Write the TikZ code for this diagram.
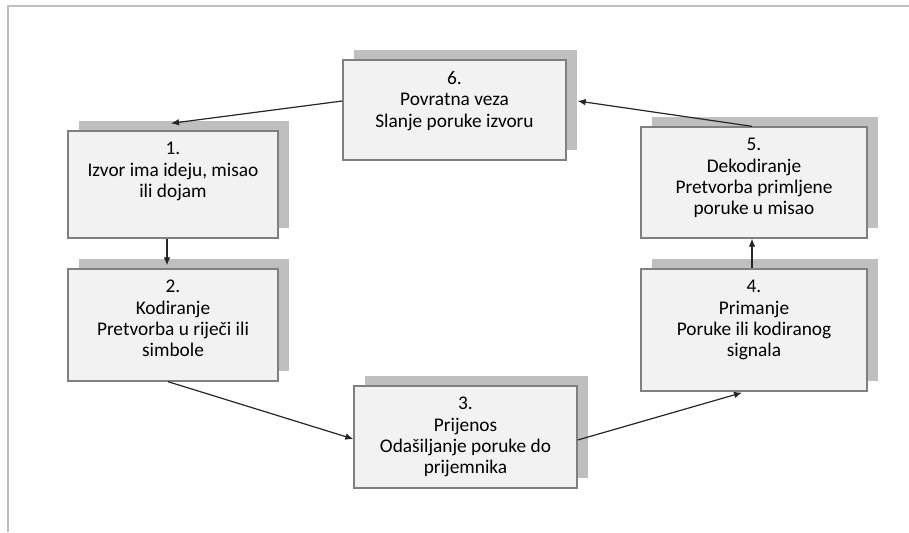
\documentclass[tikz,border=0pt]{standalone}
\usepackage{fontspec}
\setmainfont{Carlito}
\usetikzlibrary{arrows.meta,calc,shadows}
\definecolor{stepColor}{RGB}{242,242,242}
\definecolor{stepBorder}{RGB}{128,128,128}
\definecolor{shadowColor}{RGB}{191,191,191}
\definecolor{frameColor}{RGB}{190,190,190}
\newcommand{\steptext}[3]{\parbox[c][#2][t]{#1}{\centering\vspace*{8.5pt}#3}}
\tikzset{stepbox/.style={draw=stepBorder, fill=stepColor, line width=1pt, inner sep=0pt, font=\fontsize{14.5}{16}\selectfont, drop shadow={shadow xshift=8.5pt, shadow yshift=7.5pt, fill=shadowColor, opacity=1}}}
\tikzset{flow/.style={draw=black!85, line width=0.9pt, -{Latex[length=6pt,width=5pt]}}}

\begin{document}
\begin{tikzpicture}[x=0.75pt,y=-0.75pt]
\useasboundingbox (0,0) rectangle (909,532);
% Frame
\draw[frameColor, line width=1.5pt] (8,532) -- (8,6) -- (909,6);

% Nodes
\node (Izvor) [stepbox] at (173,184.5) {\steptext{157.5pt}{80.25pt}{1.\\ Izvor ima ideju, misao\\ ili dojam}};

\node (Kodiranje) [stepbox] at (173,325) {\steptext{157.5pt}{84pt}{2.\\ Kodiranje\\ Pretvorba u riječi ili\\ simbole}};

\node (Prijenos) [stepbox] at (465.5,437) {\steptext{167.25pt}{76.5pt}{3.\\ Prijenos\\ Odašiljanje poruke do\\ prijemnika}};

\node (Primanje) [stepbox] at (754,330) {\steptext{169.5pt}{91.5pt}{4.\\ Primanje\\ Poruke ili kodiranog\\ signala}};

\node (Dekodiranje) [stepbox] at (754,182.5) {\steptext{169.5pt}{83.25pt}{5.\\ Dekodiranje\\ Pretvorba primljene\\ poruke u misao}};

\node (PovratnaVeza) [stepbox] at (454.5,110) {\steptext{167.25pt}{75pt}{6.\\ Povratna veza\\ Slanje poruke izvoru}};

% Connectors
\draw [flow] ($(PovratnaVeza.west)+(0,-9)$) -- ($(Izvor.north)+(-2,-7)$);
\draw [flow] ($(Izvor.south)+(-6,0)$) -- ($(Kodiranje.north)+(-6,-3)$);
\draw [flow] ($(Kodiranje.south)+(-5,0)$) -- ($(Prijenos.west)+(0,2)$);
\draw [flow] ($(Prijenos.east)+(0,3)$) -- ($(Primanje.south)+(-12,1)$);
\draw [flow] ($(Primanje.north)+(-2,0)$) -- ($(Dekodiranje.south)+(-2,0)$);
\draw [flow] ($(Dekodiranje.north)+(-2,0)$) -- ($(PovratnaVeza.east)+(11,-9)$);

\end{tikzpicture}
\end{document}
